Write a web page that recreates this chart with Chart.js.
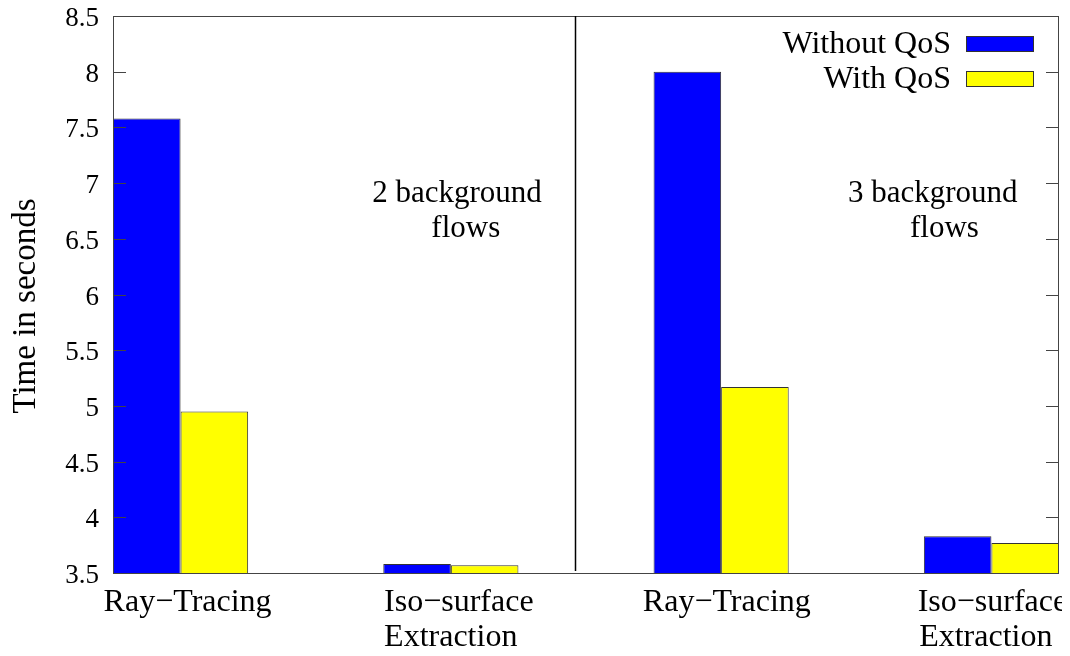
<!DOCTYPE html>
<html>
<head>
<meta charset="utf-8">
<script src="https://cdn.jsdelivr.net/npm/chart.js@4/dist/chart.umd.min.js"></script>
<style>
  html, body { margin: 0; padding: 0; background: #ffffff; overflow: hidden; }
  #wrap { width: 1070px; height: 656px; position: relative; }
</style>
</head>
<body>
<div id="wrap"><canvas id="chart" width="1070" height="656"></canvas></div>
<script>
// Workload groups along the x axis (two scenarios, two workloads each)
const categories = [
  ['Ray\u2212Tracing'],
  ['Iso\u2212surface', 'Extraction'],
  ['Ray\u2212Tracing'],
  ['Iso\u2212surface', 'Extraction']
];
const groupPositions = [0, 1, 2, 3];

// Completion time in seconds
const seriesNames = ['Without QoS', 'With QoS'];
const withoutQoS = [7.58, 3.58, 8.00, 3.83];
const withQoS    = [4.95, 3.57, 5.17, 3.77];

// Y axis range and tick spacing
const yMin = 3.5;
const yMax = 8.5;
const yStep = 0.5;

// Scenario notes written inside the plot
const scenarioNotes = [
  ['2 background', ' flows'],
  ['3 background', ' flows']
];

const SERIF = "'Liberation Serif', 'Times New Roman', Times, serif";
const BLUE = '#0000ff';
const YELLOW = '#ffff00';
const EDGE = '#333333';

// Where the hand-placed texts sit (x in data units, y in data units or px from plot bottom)
const categoryTextLayout = [
  { x: 0.026, align: 'center' },
  { x: 0.753, align: 'left' },
  { x: 2.021, align: 'center' },
  { x: 2.727, align: 'left', dx2: 1.5 }
];
const noteLayout = [
  { x: [1.023, 1.041], y: 6.833 },
  { x: [2.783, 2.812], y: 6.833 }
];
const dividerX = 1.458;

const gnuplotDecor = {
  id: 'gnuplotDecor',
  afterDatasetsDraw(chart) {
    const { ctx, chartArea: a, scales } = chart;
    const xs = scales.x, ys = scales.y;
    ctx.save();

    // plot frame
    ctx.strokeStyle = '#444444';
    ctx.lineWidth = 1;
    ctx.strokeRect(Math.round(a.left) + 0.5, Math.round(a.top) + 0.5,
                   Math.round(a.right - a.left) - 1, Math.round(a.bottom - a.top));

    // inward tick marks, mirrored on both sides
    ys.ticks.forEach(t => {
      const py = Math.round(ys.getPixelForValue(t.value)) + 0.5;
      ctx.beginPath();
      ctx.moveTo(a.left, py); ctx.lineTo(a.left + 13, py);
      ctx.moveTo(a.right, py); ctx.lineTo(a.right - 13, py);
      ctx.stroke();
    });

    // divider between the two scenarios
    const dx = Math.round(xs.getPixelForValue(dividerX)) + 0.5;
    ctx.strokeStyle = '#000000';
    ctx.lineWidth = 1.5;
    ctx.beginPath();
    ctx.moveTo(dx, a.top);
    ctx.lineTo(dx, a.bottom - 2);
    ctx.stroke();

    // scenario notes
    ctx.fillStyle = '#000000';
    ctx.font = `31px ${SERIF}`;
    ctx.textAlign = 'center';
    ctx.textBaseline = 'alphabetic';
    scenarioNotes.forEach((lines, i) => {
      const lay = noteLayout[i];
      const by = ys.getPixelForValue(lay.y);
      lines.forEach((ln, j) => {
        ctx.fillText(ln, xs.getPixelForValue(lay.x[j]), by + j * 35);
      });
    });

    // legend, right-aligned text with a sample box
    ctx.font = `32px ${SERIF}`;
    ctx.textAlign = 'right';
    const colors = [BLUE, YELLOW];
    seriesNames.forEach((name, i) => {
      const top = a.top + 20 + i * 35;
      ctx.fillStyle = '#000000';
      ctx.fillText(name, a.right - 108, top + 17);
      ctx.fillStyle = colors[i];
      ctx.fillRect(a.right - 93, top, 67, 15);
      ctx.strokeStyle = EDGE;
      ctx.lineWidth = 1;
      ctx.strokeRect(a.right - 93 + 0.5, top + 0.5, 67, 15);
    });

    // category labels under the axis
    ctx.save();
    ctx.beginPath();
    ctx.rect(0, 0, a.right + 3, chart.height);
    ctx.clip();
    ctx.fillStyle = '#000000';
    ctx.font = `32px ${SERIF}`;
    categories.forEach((lines, i) => {
      const lay = categoryTextLayout[i];
      ctx.textAlign = lay.align;
      const px = xs.getPixelForValue(lay.x);
      lines.forEach((ln, j) => {
        const off = j === 1 && lay.dx2 ? lay.dx2 : 0;
        ctx.fillText(ln, px + off, a.bottom + 38 + j * 35);
      });
    });
    ctx.restore();

    // y axis title
    ctx.save();
    ctx.translate(35, 306);
    ctx.rotate(-Math.PI / 2);
    ctx.textAlign = 'center';
    ctx.textBaseline = 'alphabetic';
    ctx.font = `33px ${SERIF}`;
    ctx.fillStyle = '#000000';
    ctx.fillText('Time in seconds', 0, 0);
    ctx.restore();

    ctx.restore();
  }
};

new Chart(document.getElementById('chart').getContext('2d'), {
  type: 'bar',
  data: {
    datasets: [
      {
        label: seriesNames[0],
        data: groupPositions.map((x, i) => ({ x, y: withoutQoS[i] })),
        backgroundColor: BLUE,
        borderColor: EDGE,
        borderWidth: 1,
        categoryPercentage: 0.5,
        barPercentage: 1.0
      },
      {
        label: seriesNames[1],
        data: groupPositions.map((x, i) => ({ x, y: withQoS[i] })),
        backgroundColor: YELLOW,
        borderColor: EDGE,
        borderWidth: 1,
        categoryPercentage: 0.5,
        barPercentage: 1.0
      }
    ]
  },
  options: {
    responsive: false,
    animation: false,
    devicePixelRatio: 1,
    layout: { padding: { top: 16, right: 11, left: 0, bottom: 0 } },
    plugins: {
      legend: { display: false },
      tooltip: { enabled: false }
    },
    scales: {
      x: {
        type: 'linear',
        min: -0.25,
        max: 3.25,
        offset: false,
        ticks: { display: false },
        grid: { display: false, drawTicks: false },
        border: { display: false },
        // one tick per group, so bar widths follow the group spacing
        afterBuildTicks(scale) { scale.ticks = groupPositions.map(v => ({ value: v })); },
        afterFit(scale) { scale.height = 83; }
      },
      y: {
        min: yMin,
        max: yMax,
        ticks: {
          stepSize: yStep,
          color: '#000000',
          padding: 14,
          labelOffset: 3,
          font: { family: SERIF, size: 27 },
          callback: v => String(v)
        },
        grid: { display: false, drawTicks: false },
        border: { display: false },
        afterFit(scale) {
          scale.width = 113;
          scale.paddingTop = 0;
          scale.paddingBottom = 0;
        }
      }
    }
  },
  plugins: [gnuplotDecor]
});
</script>
</body>
</html>
